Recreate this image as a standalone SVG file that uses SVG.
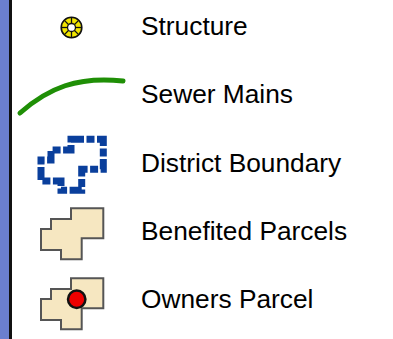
<svg xmlns="http://www.w3.org/2000/svg" width="393" height="339" viewBox="0 0 393 339">
  <style>
    .lbl { font-family: "Liberation Sans", Arial, sans-serif; font-size: 26.3px; fill: #000; }
    .parcel { fill: #f6e7c1; stroke: #555; stroke-width: 2; stroke-linejoin: miter; }
  </style>
  <defs>
    <polygon id="parcelShape" points="71,208.3 103.3,208.3 103.3,238.3 81.7,238.3 81.7,259.3 61,259.3 61,250 41,250 41,229 51,229 51,219 71,219"/>
  </defs>
  <rect x="0" y="0" width="393" height="339" fill="#ffffff"/>
  <g id="sidebar">
    <rect x="0" y="0" width="9" height="339" fill="#6b7fcf"/>
    <rect x="9" y="0" width="3" height="339" fill="#111"/>
  </g>
  <g id="structure">
    <circle cx="71.5" cy="27.5" r="10.3" fill="#f2e600" stroke="#111" stroke-width="1.6"/>
    <g stroke="#111" stroke-width="1.3">
      <line x1="71.5" y1="23.5" x2="71.5" y2="17.5"/>
      <line x1="71.5" y1="31.5" x2="71.5" y2="37.5"/>
      <line x1="67.5" y1="27.5" x2="61.5" y2="27.5"/>
      <line x1="75.5" y1="27.5" x2="81.5" y2="27.5"/>
      <line x1="74.3" y1="24.7" x2="78.6" y2="20.4"/>
      <line x1="68.7" y1="24.7" x2="64.4" y2="20.4"/>
      <line x1="74.3" y1="30.3" x2="78.6" y2="34.6"/>
      <line x1="68.7" y1="30.3" x2="64.4" y2="34.6"/>
    </g>
    <circle cx="71.5" cy="27.5" r="4" fill="#ffffff" stroke="#111" stroke-width="1.3"/>
    <text class="lbl" x="141" y="35">Structure</text>
  </g>
  <g id="sewer-mains">
    <path d="M20,113 C48,88 78,76 123,81" fill="none" stroke="#1f8f06" stroke-width="5" stroke-linecap="round"/>
    <text class="lbl" x="141" y="103.3">Sewer Mains</text>
  </g>
  <g id="district-boundary">
    <use href="#parcelShape" transform="translate(0,-69)" fill="none" stroke="#0a3f9c" stroke-width="7" stroke-dasharray="13 2.5 8 2.5" stroke-linejoin="miter"/>
    <text class="lbl" x="141" y="171.7">District Boundary</text>
  </g>
  <g id="benefited-parcels">
    <use href="#parcelShape" class="parcel"/>
    <text class="lbl" x="141" y="240">Benefited Parcels</text>
  </g>
  <g id="owners-parcel">
    <use href="#parcelShape" class="parcel" transform="translate(0,70)"/>
    <circle cx="76.7" cy="299.3" r="8.7" fill="#ee0000" stroke="#111" stroke-width="2.5"/>
    <text class="lbl" x="141" y="308.3">Owners Parcel</text>
  </g>
</svg>
